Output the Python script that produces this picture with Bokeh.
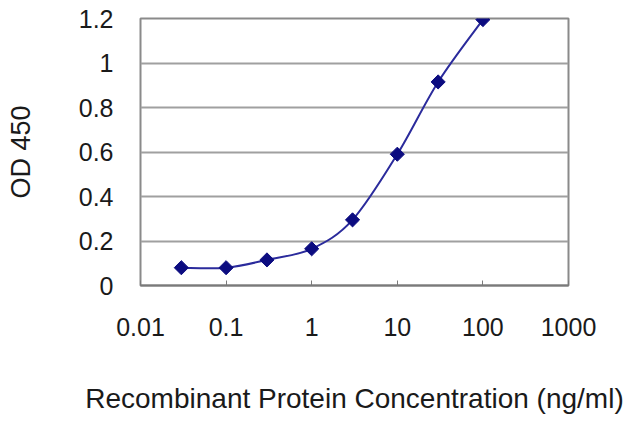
import numpy as np
from bokeh.plotting import figure
from bokeh.models import Range1d, FixedTicker, CustomJSTickFormatter, ColumnDataSource
from bokeh.embed import file_html
from bokeh.resources import INLINE

# ELISA standard curve
conc = [0.03, 0.1, 0.3, 1, 3, 10, 30, 100]
od450 = [0.08, 0.08, 0.115, 0.165, 0.295, 0.59, 0.915, 1.195]
x_ticks = [0.01, 0.1, 1, 10, 100, 1000]
y_ticks = [0, 0.2, 0.4, 0.6, 0.8, 1.0, 1.2]

p = figure(width=640, height=427,
           x_axis_type="log",
           x_range=Range1d(0.01, 1000),
           y_range=Range1d(0, 1.2),
           toolbar_location=None, tools="",
           output_backend="svg",
           min_border_left=140, min_border_right=72,
           min_border_top=18, min_border_bottom=142)

p.background_fill_color = "white"
p.border_fill_color = "white"
p.outline_line_color = "#8a8a8a"
p.outline_line_width = 2

# smoothed line (Catmull-Rom style bezier, computed in log-x space)
lx = np.log10(conc)
ly = np.array(od450)
n = len(lx)
x0, y0, x1, y1, cx0, cy0, cx1, cy1 = [], [], [], [], [], [], [], []
for i in range(n - 1):
    a = max(i - 1, 0)
    b = min(i + 2, n - 1)
    x0.append(10 ** lx[i]); y0.append(ly[i])
    x1.append(10 ** lx[i + 1]); y1.append(ly[i + 1])
    cx0.append(10 ** (lx[i] + (lx[i + 1] - lx[a]) / 6))
    cy0.append(ly[i] + (ly[i + 1] - ly[a]) / 6)
    cx1.append(10 ** (lx[i + 1] - (lx[b] - lx[i]) / 6))
    cy1.append(ly[i + 1] - (ly[b] - ly[i]) / 6)

curve = ColumnDataSource(data=dict(x0=x0, y0=y0, x1=x1, y1=y1,
                                   cx0=cx0, cy0=cy0, cx1=cx1, cy1=cy1))
p.bezier(x0="x0", y0="y0", x1="x1", y1="y1", cx0="cx0", cy0="cy0",
         cx1="cx1", cy1="cy1", source=curve, line_color="#2b2b9c", line_width=2)

pts = ColumnDataSource(data=dict(x=conc, y=od450))
p.scatter("x", "y", source=pts, marker="square", size=10, angle=np.pi / 4,
          fill_color="#0c0c80", line_color="#0c0c80")

# grid
p.xgrid.grid_line_color = None
p.ygrid.ticker = FixedTicker(ticks=y_ticks)
p.ygrid.grid_line_color = "#a0a0a0"
p.ygrid.grid_line_width = 2

# x axis
p.xaxis.ticker = FixedTicker(ticks=x_ticks, minor_ticks=[])
p.xaxis.formatter = CustomJSTickFormatter(code="return String(tick);")
p.xaxis.axis_line_color = "#7a7a7a"
p.xaxis.axis_line_width = 2
p.xaxis.major_tick_line_color = "#7a7a7a"
p.xaxis.major_tick_in = 5
p.xaxis.major_tick_out = 0
p.xaxis.minor_tick_line_color = None
p.xaxis.major_label_standoff = 32
p.xaxis.axis_label = "Recombinant Protein Concentration (ng/ml)"
p.xaxis.axis_label_standoff = 44

# y axis
p.yaxis.ticker = FixedTicker(ticks=y_ticks, minor_ticks=[])
p.yaxis.formatter = CustomJSTickFormatter(code="return String(parseFloat(tick.toFixed(1)));")
p.yaxis.axis_line_color = None
p.yaxis.major_tick_line_color = None
p.yaxis.minor_tick_line_color = None
p.yaxis.major_label_standoff = 21
p.yaxis.axis_label = "OD 450"
p.yaxis.axis_label_standoff = 40

for ax in (p.xaxis[0], p.yaxis[0]):
    ax.major_label_text_font = "Liberation Sans"
    ax.major_label_text_font_size = "25px"
    ax.major_label_text_color = "#1a1a1a"
    ax.axis_label_text_font = "Liberation Sans"
    ax.axis_label_text_font_style = "normal"
    ax.axis_label_text_color = "#1a1a1a"
p.xaxis.axis_label_text_font_size = "28px"
p.yaxis.axis_label_text_font_size = "27px"

open("out.html", "w").write(file_html(p, INLINE))
